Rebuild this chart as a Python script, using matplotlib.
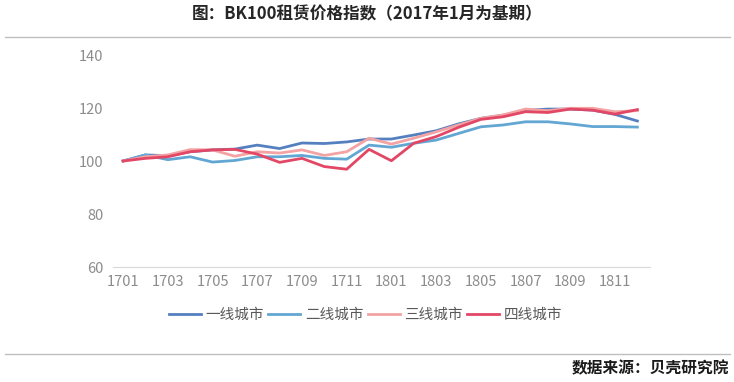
import numpy as np
import matplotlib
matplotlib.use('Agg')
import matplotlib.pyplot as plt

plt.rcParams['font.family'] = ['Noto Sans CJK SC', 'DejaVu Sans']
plt.rcParams['axes.unicode_minus'] = False

# ---- data ----
months = ['1701', '1702', '1703', '1704', '1705', '1706', '1707', '1708',
          '1709', '1710', '1711', '1712', '1801', '1802', '1803', '1804',
          '1805', '1806', '1807', '1808', '1809', '1810', '1811', '1812']
tier1 = [100, 102.3, 102.0, 103.5, 104.2, 104.5, 106.0, 104.7, 106.8, 106.6, 107.2, 108.3,
         108.3, 109.8, 111.4, 114.0, 116.1, 117.3, 119.1, 119.6, 119.6, 119.2, 117.6, 115.1]
tier2 = [100, 102.3, 100.5, 101.6, 99.6, 100.2, 101.6, 101.6, 102.1, 101.0, 100.7, 106.0,
         105.2, 106.7, 107.9, 110.4, 112.9, 113.6, 114.8, 114.8, 114.0, 113.0, 113.0, 112.8]
tier3 = [100, 101.6, 102.3, 104.3, 104.2, 101.8, 103.5, 103.0, 104.2, 102.1, 103.5, 108.6,
         106.4, 108.6, 111.0, 113.6, 116.1, 117.4, 119.6, 119.0, 119.9, 119.9, 118.6, 119.0]
tier4 = [100, 101.0, 101.6, 103.5, 104.2, 104.4, 102.6, 99.5, 101.0, 97.9, 96.9, 104.4,
         100.1, 106.7, 109.2, 112.7, 115.7, 116.7, 118.6, 118.3, 119.6, 119.2, 117.7, 119.4]
names = ['一线城市', '二线城市', '三线城市', '四线城市']
colors = ['#5580C0', '#62A6D3', '#F3A3A3', '#E24765']

fig = plt.figure(figsize=(7.34, 3.82), dpi=100)
ax = fig.add_axes([0.154, 0.301, 0.732, 0.555])

x = np.arange(len(months))
for ys, name, c in zip([tier1, tier2, tier3, tier4], names, colors):
    ax.plot(x, ys, color=c, linewidth=2.0, label=name)

ax.set_ylim(60, 140)
ax.set_yticks([60, 80, 100, 120, 140])
ax.set_xlim(-0.45, 23.58)
ax.set_xticks(x[::2])
ax.set_xticklabels(months[::2])
ax.tick_params(axis='both', length=0, labelsize=10.5, labelcolor='#8c8c8c', pad=6)
ax.tick_params(axis='y', pad=7)
for s in ['left', 'right', 'top']:
    ax.spines[s].set_visible(False)
ax.spines['bottom'].set_color('#d9d9d9')

ax.legend(loc='upper center', bbox_to_anchor=(0.47, -0.13), ncol=4, frameon=False,
          fontsize=10.5, labelcolor='#595959', handlelength=2.2, columnspacing=0.3,
          handletextpad=0.3)

fig.text(0.5, 0.962, '图：BK100租赁价格指数（2017年1月为基期）', ha='center', va='center',
         fontsize=12, color='#262626', fontweight='bold')
fig.add_artist(plt.Line2D([0.007, 0.995], [0.903, 0.903], color='#bfbfbf', linewidth=1))
fig.add_artist(plt.Line2D([0.007, 0.995], [0.073, 0.073], color='#bfbfbf', linewidth=1))
fig.text(0.993, 0.035, '数据来源：贝壳研究院', ha='right', va='center',
         fontsize=11.3, color='#1a1a1a', fontweight='bold')

fig.savefig('out.png', dpi=100)
